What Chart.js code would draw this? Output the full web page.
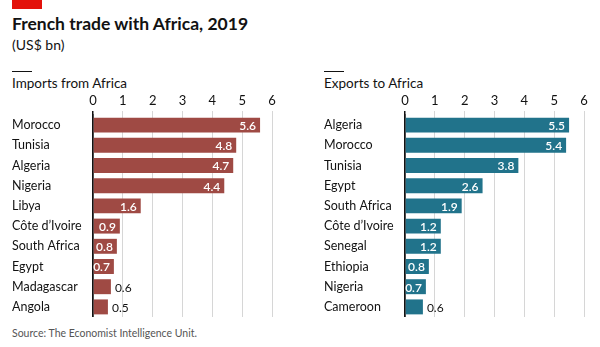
<!DOCTYPE html>
<html>
<head>
<meta charset="utf-8">
<script src="https://cdn.jsdelivr.net/npm/chart.js@4/dist/chart.umd.min.js"></script>
<style>
  html, body { margin: 0; padding: 0; background: #fff; }
  body { width: 600px; height: 347px; position: relative; overflow: hidden;
         font-family: 'Lato', sans-serif; color: #121212; }
  .abs { position: absolute; white-space: nowrap; }
  #redbar { left: 12px; top: 0; width: 30px; height: 9px; background: #e3120b; }
  #title { left: 12px; top: 13px; font-size: 17.5px; line-height: 22px; font-weight: 700; }
  #subtitle { left: 12px; top: 36px; font-size: 14px; line-height: 18px; }
  .rule { width: 20px; height: 1px; background: #121212; top: 71px; }
  .panel-title { top: 74px; font-size: 13.5px; line-height: 18px; }
  #source { left: 12px; top: 325px; font-size: 10.5px; line-height: 16px; color: #555; }
  .wrap { position: absolute; top: 92px; width: 268px; height: 225px; }
</style>
</head>
<body>
<div id="redbar" class="abs"></div>
<div id="title" class="abs">French trade with Africa, 2019</div>
<div id="subtitle" class="abs">(US$ bn)</div>

<div class="abs rule" style="left:12px"></div>
<div class="abs panel-title" style="left:12px">Imports from Africa</div>
<div class="abs rule" style="left:324px"></div>
<div class="abs panel-title" style="left:324px">Exports to Africa</div>

<div class="wrap" style="left:12px"><canvas id="chart-imports"></canvas></div>
<div class="wrap" style="left:324px"><canvas id="chart-exports"></canvas></div>

<div id="source" class="abs">Source: The Economist Intelligence Unit.</div>

<script>
/* ─── Data ───────────────────── */
const importCountries = ['Morocco', 'Tunisia', 'Algeria', 'Nigeria', 'Libya',
                         'Côte d’Ivoire', 'South Africa', 'Egypt', 'Madagascar', 'Angola'];
const importValues = [5.6, 4.8, 4.7, 4.4, 1.6, 0.9, 0.8, 0.7, 0.6, 0.5];

const exportCountries = ['Algeria', 'Morocco', 'Tunisia', 'Egypt', 'South Africa',
                         'Côte d’Ivoire', 'Senegal', 'Ethiopia', 'Nigeria', 'Cameroon'];
const exportValues = [5.5, 5.4, 3.8, 2.6, 1.9, 1.2, 1.2, 0.8, 0.7, 0.6];

const axisTicks = [0, 1, 2, 3, 4, 5, 6];

/* ─── Shared chart defaults ───────────────────── */
Chart.defaults.font.family = "'Lato', sans-serif";
Chart.defaults.font.size = 13;
Chart.defaults.color = '#121212';

// value labels: inside the bar (white) when it fits, otherwise just past the end
const valueLabels = {
  id: 'valueLabels',
  afterDatasetsDraw(chart) {
    const { ctx } = chart;
    const meta = chart.getDatasetMeta(0);
    const values = chart.data.datasets[0].data;
    ctx.save();
    ctx.textBaseline = 'middle';
    meta.data.forEach((bar, i) => {
      const v = values[i];
      const txt = v.toFixed(1);
      if (v >= 0.7) {
        ctx.font = "600 12px 'Lato', sans-serif";
        ctx.fillStyle = '#fff';
        ctx.textAlign = 'right';
        ctx.fillText(txt, bar.x - 4, bar.y + 1);
      } else {
        ctx.font = "12px 'Lato', sans-serif";
        ctx.fillStyle = '#121212';
        ctx.textAlign = 'left';
        ctx.fillText(txt, bar.x + 4, bar.y + 1);
      }
    });
    ctx.restore();
  }
};

function makeChart(id, labels, values, color) {
  return new Chart(document.getElementById(id), {
    type: 'bar',
    data: {
      labels: labels,
      datasets: [{
        data: values,
        backgroundColor: color,
        categoryPercentage: 1,
        barPercentage: 0.74,
      }]
    },
    options: {
      indexAxis: 'y',
      responsive: true,
      maintainAspectRatio: false,
      animation: false,
      layout: { padding: { left: 0, right: 8, top: 0, bottom: 0 } },
      plugins: { legend: { display: false }, tooltip: { enabled: false } },
      scales: {
        x: {
          position: 'top',
          min: 0,
          max: 6,
          afterBuildTicks: (s) => { s.ticks = axisTicks.map(v => ({ value: v })); },
          afterFit: (s) => { s.height = 23; s.paddingLeft = 0; },
          border: { display: false },
          grid: {
            color: (c) => c.tick && c.tick.value === 0 ? '#121212' : '#d6d6d6',
            lineWidth: (c) => c.tick && c.tick.value === 0 ? 1.5 : 1,
            drawTicks: true,
            tickLength: 4,
          },
          ticks: { padding: 2, maxRotation: 0, font: { size: 13 } }
        },
        y: {
          z: 1,
          afterFit: (s) => { s.width = 81; s.paddingTop = 0; s.paddingBottom = 0; },
          grid: { display: false },
          border: { display: true, color: '#121212', width: 1.5 },
          ticks: { crossAlign: 'far', padding: 0, font: { size: 12.5 } }
        }
      }
    },
    plugins: [valueLabels]
  });
}

makeChart('chart-imports', importCountries, importValues, '#9f4a44');
makeChart('chart-exports', exportCountries, exportValues, '#21738b');
</script>
</body>
</html>
